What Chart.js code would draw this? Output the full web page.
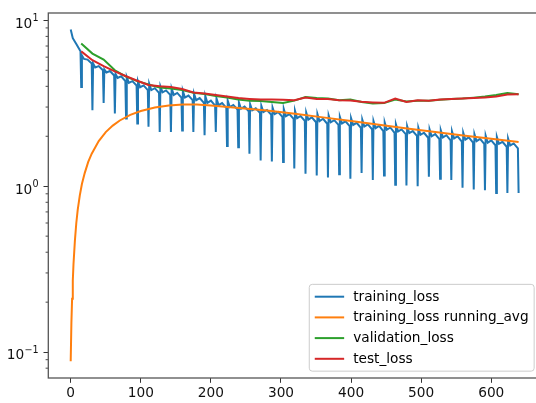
<!DOCTYPE html>
<html>
<head>
<meta charset="utf-8">
<script src="https://cdn.jsdelivr.net/npm/chart.js@4.4.1/dist/chart.umd.min.js"></script>
<style>
  html, body { margin: 0; padding: 0; overflow: hidden; background: #fff; }
  #wrap { width: 541px; height: 403px; }
</style>
</head>
<body>
<div id="wrap"><canvas id="lossChart" width="541" height="403"></canvas></div>
<script>
// training steps per epoch
const EPOCH_LEN = 16;
// where inside an epoch each of the per-epoch training values sits
const epochOffsets = [0, 3, 8, 14, 15];

// training loss, one value per epoch for each point of the saw-tooth
const epochPeak = [8.8, 6.15, 5.5, 5.05, 4.75, 4.55, 4.3, 4.15, 4.0, 3.88,
                   3.75, 3.62, 3.5, 3.38, 3.28, 3.2, 3.12, 3.05, 2.98, 2.92,
                   2.85, 2.78, 2.72, 2.67, 2.62, 2.57, 2.52, 2.47, 2.42, 2.36,
                   2.3, 2.25, 2.2, 2.17, 2.14, 2.1, 2.06, 2.02, 1.98, 1.94];
const epochMid = [7.8, 5.85, 5.2, 4.85, 4.5, 4.2, 3.95, 3.8, 3.68, 3.55,
                  3.42, 3.3, 3.18, 3.08, 3.0, 2.93, 2.87, 2.8, 2.72, 2.64,
                  2.57, 2.52, 2.47, 2.43, 2.39, 2.34, 2.29, 2.24, 2.19, 2.14,
                  2.09, 2.04, 2.0, 1.97, 1.94, 1.91, 1.87, 1.83, 1.8, 1.76];
const epochBump = [7.2, 5.8, 5.3, 4.95, 4.6, 4.3, 4.05, 3.9, 3.78, 3.65,
                   3.52, 3.4, 3.28, 3.17, 3.09, 3.02, 2.95, 2.88, 2.8, 2.72,
                   2.65, 2.6, 2.55, 2.5, 2.46, 2.41, 2.36, 2.31, 2.26, 2.2,
                   2.15, 2.1, 2.06, 2.03, 2.0, 1.97, 1.93, 1.89, 1.85, 1.81];
const epochPre = [6.5, 5.5, 5.0, 4.65, 4.3, 4.05, 3.8, 3.65, 3.55, 3.42,
                  3.3, 3.18, 3.06, 2.97, 2.9, 2.83, 2.77, 2.7, 2.62, 2.55,
                  2.48, 2.43, 2.38, 2.34, 2.3, 2.25, 2.2, 2.15, 2.1, 2.06,
                  2.01, 1.96, 1.92, 1.89, 1.86, 1.83, 1.8, 1.76, 1.73, 1.69];
const epochLow = [3.97, 2.87, 3.17, 2.74, 2.56, 2.39, 2.28, 2.12, 2.12, 2.17,
                  2.12, 2.03, 2.12, 1.75, 1.72, 1.57, 1.43, 1.41, 1.40, 1.28,
                  1.19, 1.16, 1.13, 1.18, 1.11, 1.20, 1.09, 1.16, 1.02, 1.01,
                  1.00, 1.14, 1.11, 1.09, 0.98, 0.955, 0.946, 0.91, 0.91, 0.91];

// running average of the training loss
const avgSteps = [0, 1, 2, 3, 4, 6, 8, 10, 13, 16, 20, 25, 30, 40, 50, 60, 70, 85,
                  100, 120, 140, 160, 180, 200, 240, 280, 320, 360, 400, 440,
                  480, 520, 560, 600, 639];
const avgLoss = [0.088, 0.15, 0.21, 0.27, 0.34, 0.47, 0.6, 0.72, 0.88, 1.03, 1.2,
                 1.4, 1.57, 1.87, 2.12, 2.32, 2.49, 2.69, 2.84, 2.98, 3.07, 3.11,
                 3.11, 3.07, 2.96, 2.86, 2.73, 2.6, 2.47, 2.35, 2.23, 2.12, 2.02,
                 1.93, 1.85];

// evaluated once at the end of every epoch
const valLoss = [7.24, 6.3, 5.8, 5.0, 4.58, 4.3, 4.1, 3.93, 3.88, 3.8,
                 3.66, 3.6, 3.5, 3.42, 3.33, 3.28, 3.26, 3.22, 3.17, 3.28,
                 3.45, 3.40, 3.38, 3.30, 3.33, 3.22, 3.15, 3.17, 3.33, 3.24,
                 3.28, 3.27, 3.32, 3.36, 3.38, 3.42, 3.47, 3.55, 3.65, 3.58];
const testLoss = [6.5, 5.75, 5.3, 4.92, 4.6, 4.32, 4.08, 4.0, 3.96, 3.85,
                  3.67, 3.62, 3.55, 3.47, 3.40, 3.36, 3.33, 3.33, 3.32, 3.30,
                  3.42, 3.35, 3.36, 3.30, 3.29, 3.23, 3.20, 3.18, 3.38, 3.22,
                  3.30, 3.27, 3.33, 3.36, 3.38, 3.40, 3.43, 3.47, 3.57, 3.58];

const xTicks = [0, 100, 200, 300, 400, 500, 600];
const yMajorTicks = [0.1, 1, 10];
const yMajorExps = ['\u22121', '0', '1'];
const yMinorTicks = [0.08, 0.09, 0.2, 0.3, 0.4, 0.5, 0.6, 0.7, 0.8, 0.9,
                     2, 3, 4, 5, 6, 7, 8, 9];

const FONT = 'DejaVu Sans';
const FONT_SIZE = 13.7;

const trainPoints = [];
epochLow.forEach((low, k) => {
    const vals = [epochPeak[k], epochMid[k], epochBump[k], epochPre[k], low];
    epochOffsets.forEach((off, j) => trainPoints.push({ x: k * EPOCH_LEN + off, y: vals[j] }));
});
const evalPoints = arr => arr.map((v, k) => ({ x: k * EPOCH_LEN + EPOCH_LEN - 1, y: v }));
const avgPoints = avgSteps.map((s, i) => ({ x: s, y: avgLoss[i] }));

const frameAndLegend = {
    id: 'frameAndLegend',
    afterDatasetsDraw(chart) {
        const ctx = chart.ctx;
        const area = chart.chartArea;
        const yScale = chart.scales.y;
        ctx.save();
        // minor ticks on the log axis
        ctx.strokeStyle = '#333';
        ctx.lineWidth = 0.9;
        yMinorTicks.forEach(v => {
            const y = yScale.getPixelForValue(v);
            ctx.beginPath();
            ctx.moveTo(area.left - 2.7, y);
            ctx.lineTo(area.left, y);
            ctx.stroke();
        });
        // power-of-ten labels with a raised exponent
        const labelRight = area.left - 9.6;
        yMajorTicks.forEach((v, i) => {
            const y = yScale.getPixelForValue(v);
            ctx.fillStyle = '#111';
            ctx.textBaseline = 'alphabetic';
            ctx.font = (FONT_SIZE * 0.7).toFixed(1) + 'px "' + FONT + '"';
            const expW = ctx.measureText(yMajorExps[i]).width;
            ctx.textAlign = 'left';
            ctx.fillText(yMajorExps[i], labelRight - expW, y + 1);
            ctx.font = FONT_SIZE + 'px "' + FONT + '"';
            ctx.textAlign = 'right';
            ctx.fillText('10', labelRight - expW - 0.3, y + 7.3);
        });
        // axes frame
        ctx.strokeStyle = '#555';
        ctx.lineWidth = 1.3;
        ctx.strokeRect(area.left, area.top, area.right - area.left, area.bottom - area.top);

        // legend in the lower right corner
        const items = chart.data.datasets;
        ctx.font = FONT_SIZE + 'px "' + FONT + '"';
        const textW = Math.max(...items.map(d => ctx.measureText(d.label).width));
        const pad = 5.5, handle = 27.4, gap = 11, rowStep = 20.7;
        const w = pad + handle + gap + textW + pad;
        const h = pad * 2 + rowStep * (items.length - 1) + FONT_SIZE;
        const right = area.right - 6.85;
        const bottom = area.bottom - 6.85;
        const left = right - w, top = bottom - h;
        ctx.beginPath();
        ctx.roundRect(left, top, w, h, 3);
        ctx.fillStyle = 'rgba(255,255,255,0.8)';
        ctx.fill();
        ctx.strokeStyle = '#cccccc';
        ctx.lineWidth = 1;
        ctx.stroke();
        items.forEach((d, i) => {
            const cy = top + pad + FONT_SIZE / 2 + i * rowStep;
            ctx.strokeStyle = d.borderColor;
            ctx.lineWidth = 2;
            ctx.lineCap = 'square';
            ctx.beginPath();
            ctx.moveTo(left + pad + 1, cy);
            ctx.lineTo(left + pad + 1 + handle, cy);
            ctx.stroke();
            ctx.fillStyle = '#000';
            ctx.textAlign = 'left';
            ctx.textBaseline = 'middle';
            ctx.fillText(d.label, left + pad + handle + gap, cy + 0.5);
        });
        ctx.restore();
    }
};

const lineSet = (label, data, color, order) => ({
    label: label,
    data: data,
    borderColor: color,
    backgroundColor: color,
    borderWidth: 2,
    pointRadius: 0,
    tension: 0,
    fill: false,
    order: order
});

const ctx = document.getElementById('lossChart').getContext('2d');
const lossChart = new Chart(ctx, {
    type: 'line',
    data: {
        datasets: [
            lineSet('training_loss', trainPoints, '#1f77b4', 3),
            lineSet('training_loss running_avg', avgPoints, '#ff7f0e', 2),
            lineSet('validation_loss', evalPoints(valLoss), '#2ca02c', 1),
            lineSet('test_loss', evalPoints(testLoss), '#d62728', 0)
        ]
    },
    options: {
        responsive: false,
        animation: false,
        devicePixelRatio: 1,
        layout: { padding: { top: 13, left: 0, right: 0, bottom: 0 } },
        plugins: {
            legend: { display: false },
            tooltip: { enabled: false }
        },
        scales: {
            x: {
                type: 'linear',
                min: -31.95,
                max: 670.95,
                afterBuildTicks: s => { s.ticks = xTicks.map(v => ({ value: v })); },
                afterFit: s => { s.height = 25; },
                border: { display: false },
                grid: { drawOnChartArea: false, tickLength: 4.8, tickColor: '#333', tickWidth: 1 },
                ticks: {
                    autoSkip: false,
                    maxRotation: 0,
                    padding: 2,
                    color: '#111',
                    font: { family: FONT, size: FONT_SIZE },
                    callback: v => String(v)
                }
            },
            y: {
                type: 'logarithmic',
                min: 0.0698,
                max: 11.07,
                afterBuildTicks: s => { s.ticks = yMajorTicks.map(v => ({ value: v })); },
                afterFit: s => { s.width = 48.3; },
                border: { display: false },
                grid: { drawOnChartArea: false, tickLength: 4.8, tickColor: '#333', tickWidth: 1 },
                ticks: { display: false }
            }
        }
    },
    plugins: [frameAndLegend]
});
</script>
</body>
</html>
